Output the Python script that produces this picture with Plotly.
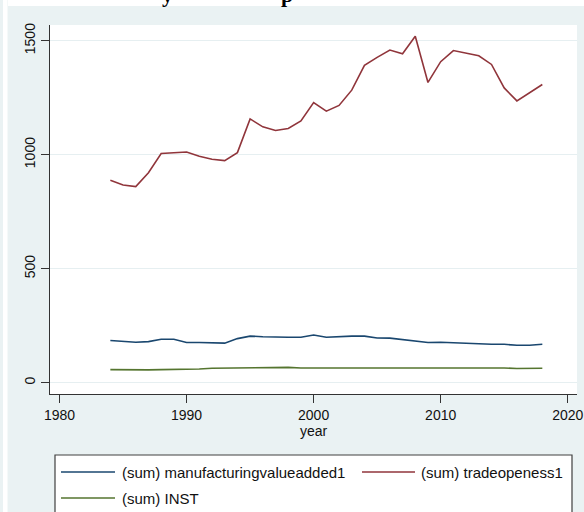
import plotly.graph_objects as go

years = list(range(1984, 2019))
manufacturing = [185, 180, 177, 180, 190, 190, 176, 176, 173, 173, 193, 204, 201, 199, 199, 199,
                 209, 199, 202, 204, 204, 196, 195, 189, 183, 176, 177, 174, 173, 168, 168, 168,
                 164, 164, 168]
trade = [888, 867, 860, 921, 1005, 1008, 1012, 993, 980, 974, 1009, 1157, 1122, 1106, 1115, 1148,
         1229, 1191, 1216, 1283, 1392, 1427, 1459, 1443, 1520, 1317, 1408, 1457, 1447, 1434, 1396,
         1293, 1236, 1271, 1308]
inst = [57, 56, 54, 56, 57, 57, 59, 60, 63, 64, 64, 66, 66, 67, 67, 64, 64, 66, 64, 66, 66, 67,
        67, 67, 67, 67, 66, 66, 66, 64, 64, 64, 62, 63, 63]

series_names = ["(sum) manufacturingvalueadded1", "(sum) tradeopeness1", "(sum) INST"]
series_colors = ["#1A476F", "#90353B", "#55752F"]
x_ticks = [1980, 1990, 2000, 2010, 2020]
y_ticks = [0, 500, 1000, 1500]

W, H = 584, 512
L, R, T, B = 50, 7, 25, 118
PW, PH = W - L - R, H - T - B


def px(x):
    return (x - L) / PW


def py(y):
    return (H - B - y) / PH


fig = go.Figure()
for name, vals, col in zip(series_names, [manufacturing, trade, inst], series_colors):
    fig.add_trace(go.Scatter(x=years, y=vals, mode="lines", name=name,
                             line=dict(color=col, width=1.6), showlegend=False))

font = "Liberation Sans, Arial, sans-serif"
fig.update_layout(
    width=W, height=H,
    margin=dict(l=L, r=R, t=T, b=B, autoexpand=False),
    paper_bgcolor="#EAF2F3",
    plot_bgcolor="white",
    font=dict(family=font, size=14, color="#111"),
    xaxis=dict(range=[1979.25, 2020.73], tickvals=x_ticks, showgrid=False, zeroline=False,
               showline=True, linecolor="#333", linewidth=1, ticks="outside", ticklen=8,
               tickcolor="#333", tickfont=dict(size=14), automargin=False,
               ticklabeloverflow="allow",
               title=dict(text="year", font=dict(size=14), standoff=0)),
    yaxis=dict(range=[-50, 1569], tickvals=y_ticks, showgrid=True, gridcolor="#E6EFF1",
               gridwidth=1.2, zeroline=False, showline=True, linecolor="#333", linewidth=1,
               ticks="outside", ticklen=8, tickcolor="#333", tickangle=-90,
               tickfont=dict(size=14), automargin=False),
)

shapes = []
# white page strips around the graph
shapes.append(dict(type="rect", xref="paper", yref="paper", x0=px(8), x1=px(W + 5),
                   y0=py(6), y1=py(-5), fillcolor="white", line=dict(width=0), layer="above"))
shapes.append(dict(type="rect", xref="paper", yref="paper", x0=px(3), x1=px(7.5),
                   y0=py(H + 5), y1=py(-5), fillcolor="white", line=dict(width=0), layer="above"))
# legend box
shapes.append(dict(type="rect", xref="paper", yref="paper", x0=px(55), x1=px(572),
                   y0=py(H + 10), y1=py(455), fillcolor="white",
                   line=dict(color="#404040", width=1.2), layer="above"))
legend_pos = [(61, 115, 120, 472), (362, 415, 419, 472), (61, 115, 120, 498)]
annotations = []
for (lx0, lx1, tx, ly), name, col in zip(legend_pos, series_names, series_colors):
    shapes.append(dict(type="line", xref="paper", yref="paper", x0=px(lx0), x1=px(lx1),
                       y0=py(ly), y1=py(ly), line=dict(color=col, width=1.6), layer="above"))
    annotations.append(dict(xref="paper", yref="paper", x=px(tx), y=py(ly), text=name,
                            showarrow=False, xanchor="left", yanchor="middle",
                            font=dict(size=15, family=font, color="#111")))

# cut-off caption fragments at the very top
for cx, ch in [(167, "y"), (287, "p")]:
    annotations.append(dict(xref="paper", yref="paper", x=px(cx), y=py(9), text="<b>" + ch + "</b>",
                            showarrow=False, xanchor="center", yanchor="bottom",
                            font=dict(size=22, family="Liberation Serif, Times New Roman, serif",
                                      color="black")))

fig.update_layout(shapes=shapes, annotations=annotations)
fig.write_html("out.html", config={"displayModeBar": False},
               post_script="document.body.style.margin='0px';document.body.style.overflow='hidden';")
